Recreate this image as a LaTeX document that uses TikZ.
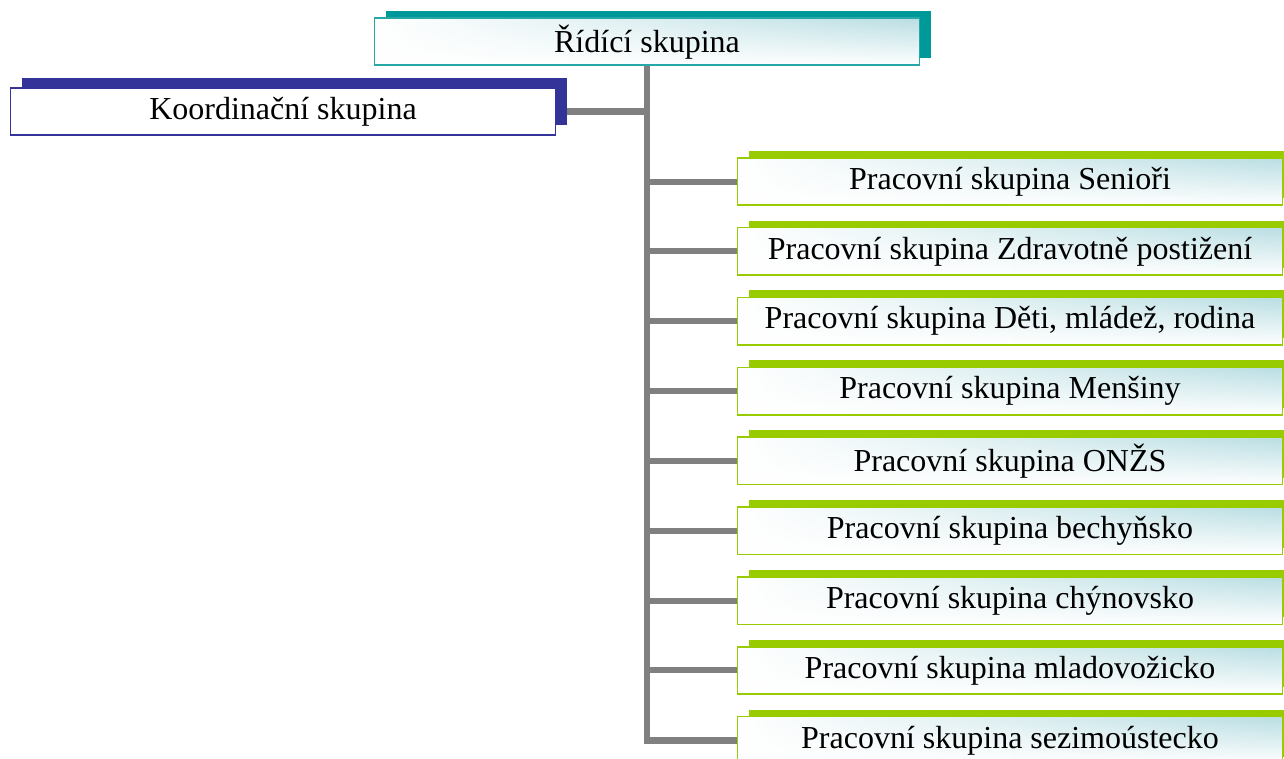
\documentclass[tikz,border=0pt]{standalone}
\usepackage{fontspec}
\setmainfont{Liberation Serif}
\usetikzlibrary{shadows,backgrounds,fadings}
\definecolor{tealc}{HTML}{009999}
\definecolor{navyc}{HTML}{333399}
\definecolor{limec}{HTML}{99CC00}
\definecolor{paleteal}{HTML}{B9DEE3}
\definecolor{linegray}{HTML}{808080}
\tikzset{
  boxbase/.style={rectangle, inner sep=0pt, minimum width=545pt, minimum height=47pt,
    line width=1.6pt, font=\fontsize{32}{36}\selectfont, text=black},
  grad/.style={fill=white, path picture={
      \fill[top color=paleteal, bottom color=white, path fading=west]
        (path picture bounding box.south west) rectangle (path picture bounding box.north east);}},
  topbox/.style={boxbase, draw=tealc!85, grad,
    general shadow={shadow xshift=11pt, shadow yshift=7pt, fill=tealc}},
  coordbox/.style={boxbase, draw=navyc, fill=white,
    general shadow={shadow xshift=11pt, shadow yshift=10pt, fill=navyc}},
  workbox/.style={boxbase, draw=limec, grad, minimum height=47.5pt,
    general shadow={shadow xshift=11pt, shadow yshift=7pt, fill=limec}},
  conn/.style={draw=linegray, line width=6.5pt},
}
\begin{document}
\begin{tikzpicture}[x=1pt,y=-1pt]
\useasboundingbox (0,0) rectangle (1284,758);
\clip (0,0) rectangle (1284,758);
\node[topbox] (top) at (647,41.7) {Řídící skupina};
\node[coordbox] (koord) at (283,111.5) {Koordinační skupina};
\node[workbox] (g1) at (1010,181.5) {Pracovní skupina Senioři};
\node[workbox] (g2) at (1010,251.35) {Pracovní skupina Zdravotně postižení};
\node[workbox] (g3) at (1010,321.2) {Pracovní skupina Děti, mládež, rodina};
\node[workbox] (g4) at (1010,391.05) {Pracovní skupina Menšiny};
\node[workbox] (g5) at (1010,460.9) {Pracovní skupina ONŽS};
\node[workbox] (g6) at (1010,530.75) {Pracovní skupina bechyňsko};
\node[workbox] (g7) at (1010,600.6) {Pracovní skupina chýnovsko};
\node[workbox] (g8) at (1010,670.45) {Pracovní skupina mladovožicko};
\node[workbox] (g9) at (1010,740.3) {Pracovní skupina sezimoústecko};
\begin{scope}[on background layer]
\draw[conn] (top.south) |- (g9.west);
\draw[conn] (koord.east) -- (koord.east -| top.south);
\foreach \n in {g1,g2,g3,g4,g5,g6,g7,g8}
  \draw[conn, line width=6pt] (\n.west) -- (\n.west -| top.south);
\end{scope}
\end{tikzpicture}
\end{document}
